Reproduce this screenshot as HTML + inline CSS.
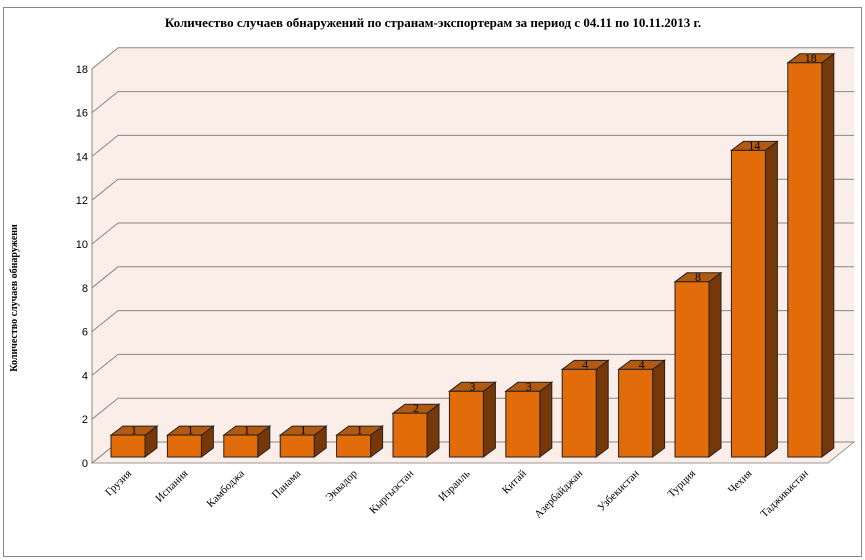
<!DOCTYPE html>
<html><head><meta charset="utf-8"><style>
body{margin:0;background:#fff}
svg{display:block;font-family:"Liberation Serif",serif}
</style></head><body>
<svg id="c" width="865" height="560">
<rect x="3.5" y="7.5" width="858" height="549" fill="#fff" stroke="#888"/>
<text x="433" y="27" text-anchor="middle" font-weight="bold" font-size="13">Количество случаев обнаружений по странам-экспортерам за период с 04.11 по 10.11.2013  г.</text>
<text transform="translate(17,298) rotate(-90)" text-anchor="middle" font-weight="bold" font-size="10">Количество случаев обнаружени</text>
<g id="walls"></g><g id="grid"></g><g id="bars"></g><g id="labels"></g>
</svg>
<script>
const categories=["Грузия","Испания","Камбоджа","Панама","Эквадор","Кыргызстан","Израиль","Китай","Азербайджан","Узбекистан","Турция","Чехия","Таджикистан"];
const values=[1,1,1,1,1,2,3,3,4,4,8,14,18];
const ticks=[0,2,4,6,8,10,12,14,16,18];
const NS="http://www.w3.org/2000/svg";
const X0=92,X1=828,DX=26,DY=-21,Y0=463,K=21.9;
const yF=v=>Y0-v*K;
function mk(t,a,p){const e=document.createElementNS(NS,t);for(const k in a)e.setAttribute(k,a[k]);p.appendChild(e);return e;}
const W=document.getElementById('walls'),G=document.getElementById('grid'),B=document.getElementById('bars'),L=document.getElementById('labels');
const wallTop=yF(18)+DY;
let e=mk('polygon',{points:`${X0+DX},${wallTop} ${X1+DX},${wallTop} ${X1+DX},${Y0+DY} ${X0+DX},${Y0+DY}`,fill:'#fbede7'},W);


e=mk('polygon',{points:`${X0},${yF(18)} ${X0+DX},${wallTop} ${X0+DX},${Y0+DY} ${X0},${Y0}`,fill:'#fbede7'},W);


e=mk('polygon',{points:`${X0},${Y0} ${X0+DX},${Y0+DY} ${X1+DX},${Y0+DY} ${X1},${Y0}`,fill:'#fbede7',stroke:'#999'},W);


ticks.forEach(t=>{
 const y=yF(t);
 let l=mk('polyline',{points:`${X0},${y} ${X0+DX},${y+DY} ${X1+DX},${y+DY}`,fill:'none',stroke:'#888'},G);
 
 
 let tx=mk('text',{x:X0-4,y:y+4,'text-anchor':'end','font-size':11,'font-family':'Liberation Sans, sans-serif'},G);
 tx.textContent=t;
 
 
});
let ax=mk('line',{x1:X0,y1:Y0,x2:X0,y2:yF(18),stroke:'#888'},G);


const bw=34,dd=12,dh=9;
categories.forEach((c,i)=>{
 const v=values[i],x=X0+19+i*56.4,yb=Y0-6,yt=yb-v*K;
 const g=mk('g',{},B);
 
 
 mk('polygon',{points:`${x+bw},${yt} ${x+bw+dd},${yt-dh} ${x+bw+dd},${yb-dh} ${x+bw},${yb}`,fill:'#763808',stroke:'#222','stroke-width':1},g);
 mk('polygon',{points:`${x},${yt} ${x+dd},${yt-dh} ${x+bw+dd},${yt-dh} ${x+bw},${yt}`,fill:'#b25a10',stroke:'#222','stroke-width':1},g);
 mk('rect',{x:x,y:yt,width:bw,height:yb-yt,fill:'#e36c0a',stroke:'#222','stroke-width':1},g);
 let t=mk('text',{x:x+bw/2+6,y:yt-1,'text-anchor':'middle','font-size':12},B);
 t.textContent=v;
 
 
 const cx=x+bw/2+4,cy=474;
 let lt=mk('text',{x:cx,y:cy,'text-anchor':'end','font-size':11,transform:`rotate(-45 ${cx} ${cy})`},L);
 lt.textContent=c;
 
 
});
</script>
</body></html>
